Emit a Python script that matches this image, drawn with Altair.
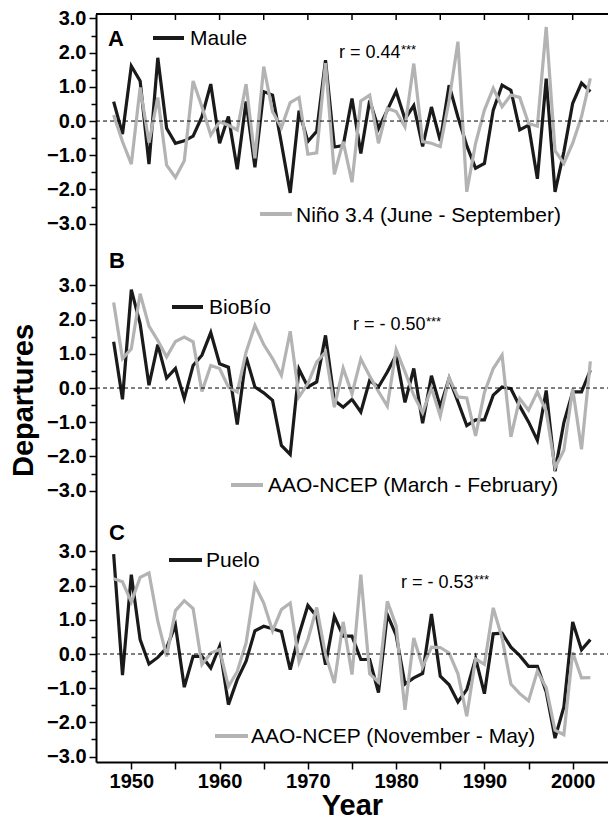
import altair as alt
import pandas as pd

# ---------------- data ----------------
years = list(range(1948, 2003))

maule = [0.57, -0.38, 1.61, 1.17, -1.26, 1.85, -0.21, -0.65, -0.58, -0.44,
         0.13, 1.08, -0.65, 0.13, -1.41, 0.57, -1.35, 0.86, 0.76, -0.65,
         -2.10, 0.30, -0.60, -0.30, 1.78, -0.76, -0.72, 0.66, -0.95, 0.60,
         -0.22, 0.32, 0.87, 0.06, 0.45, -0.74, 0.41, -0.58, 1.05, 0.12,
         -0.72, -1.38, -1.24, 0.32, 1.05, 0.90, -0.26, -0.12, -1.69, 1.24,
         -2.07, -0.90, 0.52, 1.11, 0.86]
nino34 = [0.18, -0.60, -1.26, 0.98, -0.63, 0.69, -1.29, -1.65, -1.16, 1.17,
          0.42, -0.41, -0.02, -0.12, -0.26, 1.08, -1.09, 1.59, 0.27, -0.19,
          0.54, 0.69, -0.97, -0.93, 1.69, -1.56, -0.60, -1.79, 0.59, 0.76,
          -0.65, 0.37, 0.28, -0.17, 1.68, -0.60, -0.65, -0.75, 0.60, 2.32,
          -2.07, -0.65, 0.32, 0.96, 0.42, 0.76, 0.69, -0.07, -0.15, 2.75,
          -0.87, -1.24, -0.65, 0.13, 1.25]
biobio = [1.35, -0.33, 2.88, 1.88, 0.08, 1.27, 0.29, 0.57, -0.31, 0.66,
          0.96, 1.62, 0.71, 0.61, -1.07, 0.91, 0.03, -0.14, -0.36, -1.68,
          -1.94, 0.55, 0.03, 0.18, 1.54, -0.36, -0.56, -0.33, -0.70, 0.22,
          0.03, 0.47, 0.96, -0.42, 0.57, -1.03, 0.36, -0.55, 0.28, -0.40,
          -1.10, -0.93, -0.93, -0.21, 0.03, -0.02, -0.53, -0.99, -1.53, -0.07,
          -2.43, -1.01, -0.11, -0.11, 0.52]
aao_mar_feb = [2.50, 0.86, 1.15, 2.76, 1.81, 1.39, 0.91, 1.36, 1.49, 1.35,
               -0.10, 0.66, 0.57, 0.03, -0.12, 1.05, 1.83, 1.27, 0.86, 0.37,
               1.66, -0.26, 0.13, 0.76, 1.05, -0.56, 0.58, -0.17, 0.85, 0.35,
               -0.10, -0.53, 1.12, 0.47, -0.21, -0.72, 0.00, -0.82, 0.30, -0.26,
               -0.29, -1.40, -0.13, 0.57, 0.96, -1.43, -0.31, -0.65, -0.11, -0.68,
               -2.33, -1.82, -0.02, -1.79, 0.78]
puelo = [2.92, -0.62, 2.32, 0.42, -0.29, -0.10, 0.18, 0.84, -0.97, -0.07,
         -0.07, -0.41, 0.22, -1.48, -0.75, -0.21, 0.68, 0.81, 0.74, 0.66,
         -0.46, 0.57, 1.42, 1.10, -0.31, 1.10, 0.52, 0.52, -0.16, -0.16,
         -1.13, 1.15, 0.55, -0.88, -0.70, -0.57, 1.17, -0.65, -0.90, -1.40,
         -1.04, -0.13, -1.16, 0.59, 0.61, 0.20, -0.05, -0.36, -0.36, -1.11,
         -2.46, -1.55, 0.94, 0.12, 0.42]
aao_nov_may = [2.20, 2.11, 1.52, 2.24, 2.37, 0.96, -0.07, 1.27, 1.56, 1.33,
               -0.31, 0.03, 0.13, -0.95, -0.51, 0.32, 2.01, 1.49, 0.68, 1.30,
               1.49, -0.23, 0.42, 1.36, -0.02, -0.85, 0.94, -0.60, 2.32, -0.58,
               -0.82, 1.54, 0.83, -1.63, 0.47, -0.38, 0.20, 0.19, 0.03, -0.58,
               -1.82, -0.14, -0.30, 1.35, 0.47, -0.88, -1.16, -1.37, -0.50, -0.99,
               -2.23, -2.36, 0.05, -0.70, -0.69]

panel_letters = ["A", "B", "C"]
black_names = ["Maule", "BioBío", "Puelo"]
gray_names = ["Niño 3.4 (June - September)", "AAO-NCEP (March - February)",
              "AAO-NCEP (November - May)"]
r_texts = ["r = 0.44", "r = - 0.50", "r = - 0.53"]
y_tick_steps = [k * 0.5 for k in range(-6, 7)]
x_ticks = list(range(1950, 2001, 5))

# ---------------- layout ----------------
W, H = 512, 748
OFF = {"A": 0.0, "B": -7.807, "C": -15.585}
YDOM = [-18.743, 3.13]
FONT = "Liberation Sans, Arial, Helvetica, sans-serif"
BLACK = "#1a1a1a"
GRAY = "#b3b3b3"

rows = []
for p, s, vals in [("A", "black", maule), ("A", "gray", nino34),
                   ("B", "black", biobio), ("B", "gray", aao_mar_feb),
                   ("C", "black", puelo), ("C", "gray", aao_nov_may)]:
    for yr, v in zip(years, vals):
        rows.append({"panel": p, "series": s, "year": yr, "value": v,
                     "pos": v + OFF[p]})
df = pd.DataFrame(rows)

xscale = alt.Scale(domain=[1946, 2004], nice=False, zero=False)
yscale = alt.Scale(domain=YDOM, nice=False, zero=False)

oB, oC = OFF["B"], OFF["C"]
v = (f"(abs(datum.value) <= 3.05 ? datum.value : "
     f"(abs(datum.value - ({oB})) <= 3.05 ? datum.value - ({oB}) : datum.value - ({oC})))")
is_major = f"abs({v} - round({v})) < 0.01"
ytick_vals = [round(o + s, 4) for o in OFF.values() for s in y_tick_steps]

yaxis = alt.Axis(
    values=ytick_vals,
    labelExpr=f"{is_major} ? format(round({v}) + 0, '.1f') : ''",
    tickSize={"condition": {"test": is_major, "value": 7}, "value": 5},
    tickWidth=1.5, tickColor="black", domainWidth=2, domainColor="black",
    labelFont=FONT, labelFontWeight="bold", labelFontSize=20, labelColor="black",
    labelPadding=3, labelOverlap=False, labelFlush=False, grid=False,
    title="Departures", titleFont=FONT, titleFontSize=29, titleFontWeight="bold",
    titleColor="black", titleX=-64, titleY=386, titleBaseline="alphabetic",
)
xaxis = alt.Axis(
    values=x_ticks,
    labelExpr="datum.value % 10 === 0 ? format(datum.value, 'd') : ''",
    tickSize=7, tickWidth=1.5, tickColor="black", domainWidth=2, domainColor="black",
    labelFont=FONT, labelFontWeight="bold", labelFontSize=20, labelColor="black",
    labelPadding=2, labelOverlap=False, labelFlush=False, grid=False,
    title="Year", titleFont=FONT, titleFontSize=29, titleFontWeight="bold",
    titleColor="black", titleY=52, titleBaseline="alphabetic",
)
X = alt.X("year:Q", scale=xscale, axis=xaxis)
Y = alt.Y("pos:Q", scale=yscale, axis=yaxis)

black_lines = alt.Chart(df).transform_filter("datum.series == 'black'").mark_line(
    color=BLACK, strokeWidth=3.2
).encode(x=X, y=Y, detail="panel:N")

gray_lines = alt.Chart(df).transform_filter("datum.series == 'gray'").mark_line(
    color=GRAY, strokeWidth=3.2
).encode(x=X, y=Y, detail="panel:N")

zero_df = pd.DataFrame({"pos": list(OFF.values()), "year": [1946] * 3, "year2": [2004] * 3})
zero_lines = alt.Chart(zero_df).mark_rule(
    color="black", strokeWidth=1, strokeDash=[4, 3]
).encode(y=Y, x=X, x2="year2:Q")

top_border = alt.Chart(pd.DataFrame({"a": [0]})).mark_rule(
    color="black", strokeWidth=2
).encode(x=alt.value(0), x2=alt.value(W), y=alt.value(0))

top_ticks = alt.Chart(pd.DataFrame({"year": x_ticks})).mark_rule(
    color="black", strokeWidth=1.5
).encode(x=X, y=alt.value(0), y2=alt.value(6))

# legend samples (pixel positions inside plot area)
leg = pd.DataFrame({
    "x1": [57, 164, 76, 135, 73, 119],
    "x2": [88, 196, 107, 167, 106, 152],
    "y": [24, 200, 293, 471, 546, 722],
    "c": [BLACK, GRAY, BLACK, GRAY, BLACK, GRAY],
})
legend_lines = alt.Chart(leg).mark_rule(strokeWidth=4).encode(
    x=alt.X("x1:Q", scale=None), x2="x2:Q",
    y=alt.Y("y:Q", scale=None), color=alt.Color("c:N", scale=None),
)

legend_text = pd.DataFrame({
    "t": [black_names[0], gray_names[0], black_names[1], gray_names[1],
          black_names[2], gray_names[2]],
    "x": [94, 200, 113, 172, 110, 155],
    "y": [31, 208, 300, 478, 553, 729],
})
leg_text = alt.Chart(legend_text).mark_text(
    align="left", baseline="alphabetic", font=FONT, fontSize=21, color="black"
).encode(x=alt.X("x:Q", scale=None), y=alt.Y("y:Q", scale=None), text="t:N")

letters = pd.DataFrame({"t": panel_letters, "x": [12, 13, 13], "y": [32, 254, 526]})
letter_text = alt.Chart(letters).mark_text(
    align="left", baseline="alphabetic", font=FONT, fontSize=22,
    fontWeight="bold", color="black"
).encode(x=alt.X("x:Q", scale=None), y=alt.Y("y:Q", scale=None), text="t:N")

rdf = pd.DataFrame({"t": r_texts, "x": [243, 257, 305], "y": [44, 316, 574]})
r_text = alt.Chart(rdf).mark_text(
    align="left", baseline="alphabetic", font=FONT, fontSize=18, color="black"
).encode(x=alt.X("x:Q", scale=None), y=alt.Y("y:Q", scale=None), text="t:N")

sdf = pd.DataFrame({"t": ["***"] * 3, "x": [305, 330, 378], "y": [40, 312, 570]})
star_text = alt.Chart(sdf).mark_text(
    align="left", baseline="alphabetic", font=FONT, fontSize=13, color="black"
).encode(x=alt.X("x:Q", scale=None), y=alt.Y("y:Q", scale=None), text="t:N")

chart = alt.layer(
    black_lines, gray_lines, zero_lines, top_border, top_ticks,
    legend_lines, leg_text, letter_text, r_text, star_text,
).properties(
    width=W, height=H,
    autosize=alt.AutoSizeParams(type="none"),
    padding={"left": 96, "top": 14, "right": 0, "bottom": 62},
    background="white",
).configure_view(stroke=None)

chart.save("out.html", embed_options={"renderer": "svg", "actions": False})
